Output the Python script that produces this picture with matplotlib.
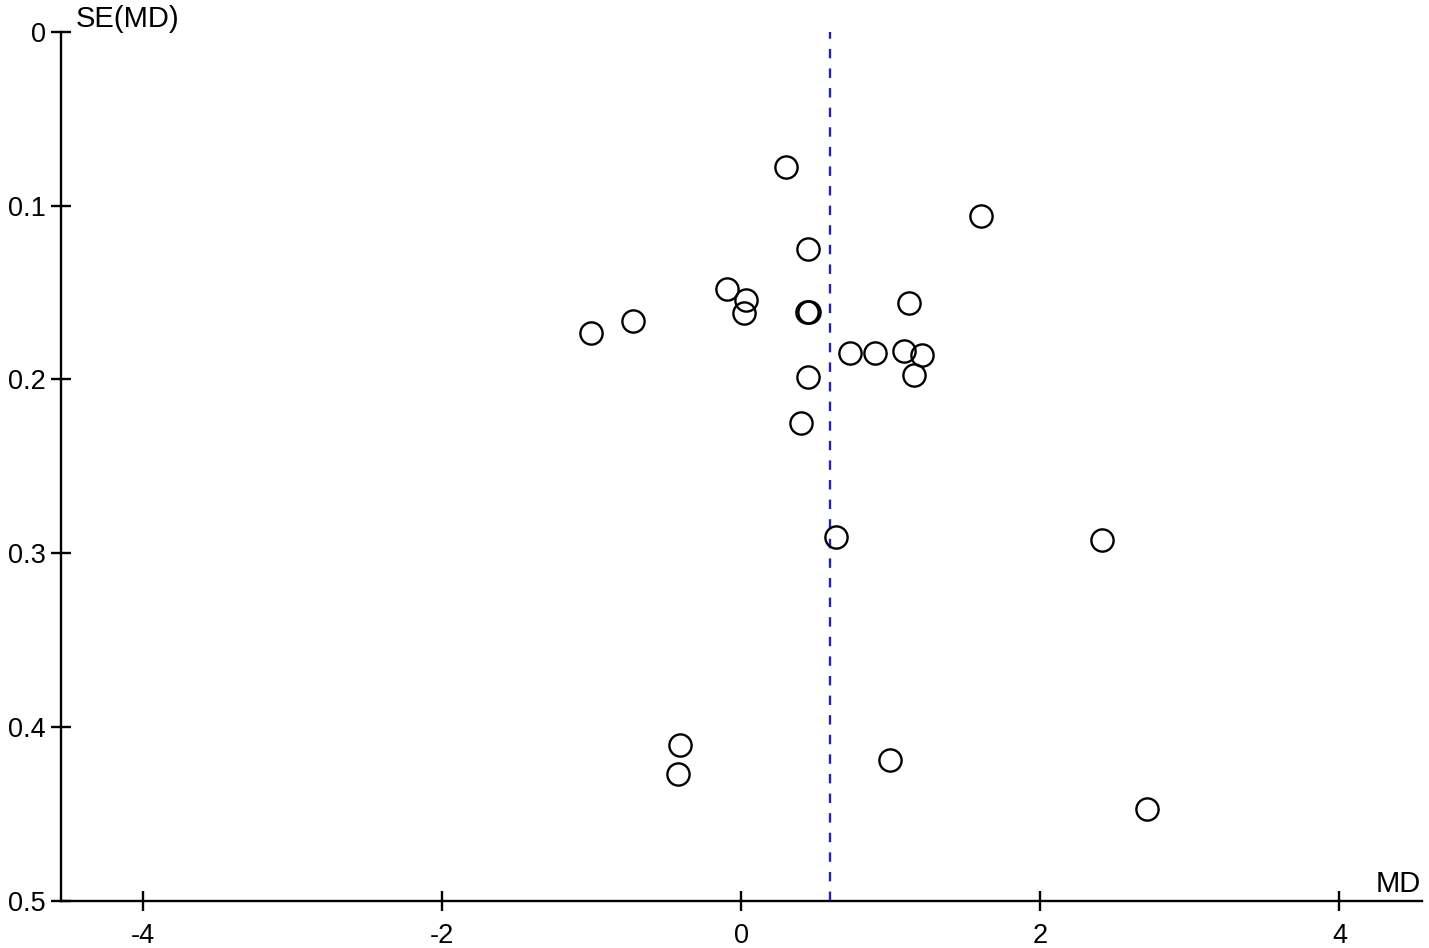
import matplotlib
matplotlib.use("Agg")
import matplotlib.pyplot as plt

plt.rcParams['font.family'] = ['Liberation Sans', 'DejaVu Sans']

# Study estimates: mean difference (MD) and its standard error SE(MD)
md = [0.299, 1.603, 0.446, -0.096, 0.032, 0.018, 0.437, 0.450, 1.122,
      -1.004, -0.722, 0.727, 0.894, 1.088, 1.208, 1.155, 0.446, 0.400,
      0.631, 2.411, -0.410, -0.421, 0.994, 2.712]
se = [0.0778, 0.1063, 0.125, 0.148, 0.1544, 0.1619, 0.1613, 0.1613, 0.156,
      0.1735, 0.1663, 0.1849, 0.1849, 0.1837, 0.186, 0.1975, 0.1987, 0.2250,
      0.2906, 0.2925, 0.4104, 0.4271, 0.4190, 0.4472]
pooled_md = 0.593

x_ticks = [-4, -2, 0, 2, 4]
x_ticklabels = ['-4', '-2', '0', '2', '4']
y_ticks = [0, 0.1, 0.2, 0.3, 0.4, 0.5]
y_ticklabels = ['0', '0.1', '0.2', '0.3', '0.4', '0.5']

fig = plt.figure(figsize=(14.29, 9.48), dpi=100)
ax = fig.add_axes([61/1429, 1 - 900.7/948, (1421.7 - 61)/1429, (900.7 - 31.7)/948])

ax.axvline(pooled_md, color='#2424a8', lw=1.7, ls=(0, (4.0, 4.3)), zorder=1)
ax.plot(md, se, ls='none', marker='o', ms=16, mfc='none', mec='black',
        mew=1.7, zorder=3)

ax.set_xlim(-4.55, 4.55)
ax.set_ylim(0.5, 0)
ax.set_xticks(x_ticks)
ax.set_xticklabels(x_ticklabels)
ax.set_yticks(y_ticks)
ax.set_yticklabels(y_ticklabels)

for s in ['top', 'right']:
    ax.spines[s].set_visible(False)
for s in ['left', 'bottom']:
    ax.spines[s].set_linewidth(1.7)
ax.tick_params(direction='inout', length=14, width=1.7, labelsize=19.5, pad=4)
ax.tick_params(axis='x', pad=9)

fig.text(76/1429, 1 - 27/948, 'SE(MD)', fontsize=21, ha='left', va='baseline')
fig.text(1421/1429, (948 - 892)/948, 'MD', fontsize=21, ha='right', va='baseline')

fig.savefig('out.png', dpi=100)
